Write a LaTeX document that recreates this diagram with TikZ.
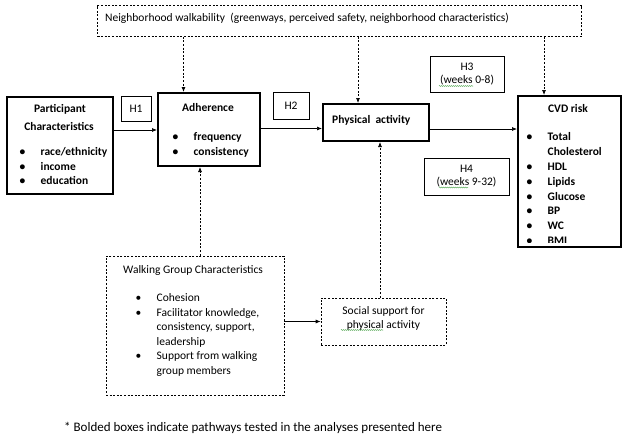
\documentclass[tikz,border=0pt]{standalone}
\usepackage{fontspec}
\setmainfont{Carlito}
\usetikzlibrary{arrows.meta, decorations.pathmorphing}
\definecolor{spellgreen}{RGB}{70,160,70}
\newcommand{\bul}{\makebox[21pt][l]{\textbullet}}
\newcommand{\nobul}{\makebox[21pt][l]{}}
\newcommand{\bulletlist}[1]{\begin{tabular}[t]{@{}l@{}}#1\end{tabular}}
\renewcommand{\arraystretch}{1.21}

\begin{document}
\begin{tikzpicture}[x=1pt, y=-1pt,
    every node/.style={font=\fontsize{11.5}{12}\selectfont, inner sep=0pt},
    boldbox/.style={draw, line width=2.4pt},
    hbox/.style={draw, line width=0.7pt},
    dbox/.style={draw, line width=0.7pt, dash pattern=on 2pt off 1.6pt},
    arr/.style={-{Latex[length=5pt,width=4pt]}, line width=0.7pt},
    darr/.style={arr, dash pattern=on 2pt off 1.6pt},
    spell/.style={spellgreen, line width=0.5pt, decorate,
        decoration={snake, amplitude=0.5pt, segment length=2pt}}]

    % Canvas
    \fill[white] (0,0) rectangle (629,442);
    \useasboundingbox (0,0) rectangle (629,442);

    % Neighborhood walkability
    \node[dbox, minimum width=484pt, minimum height=31pt] (nbhd) at (339.5,21) {};
    \node[anchor=west] (nbtext) at (105,18.5)
        {Neighborhood walkability\ \ (greenways, perceived safety, neighborhood characteristics)};

    % Participant characteristics
    \node[boldbox, minimum width=105.6pt, minimum height=96.6pt] (part) at (60,145.5) {};
    \node (parttitle) at (60,109) {\textbf{Participant}};
    \node (parttitleb) at (59,126) {\textbf{Characteristics}};
    \node[anchor=base west] (partlist) at (19.5,155.5)
        {\bfseries\bulletlist{\bul race/ethnicity\\ \bul income\\ \bul education}};

    % Adherence
    \node[boldbox, minimum width=101.6pt, minimum height=72.6pt] (adh) at (209,129.5) {};
    \node (adhtitle) at (208,108) {\textbf{Adherence}};
    \node[anchor=base west] (adhlist) at (172.5,140.5)
        {\bfseries\bulletlist{\bul frequency\\ \bul consistency}};

    % Physical activity
    \node[boldbox, minimum width=105.6pt, minimum height=36.6pt] (pa) at (376,122.5) {};
    \node[anchor=west] (patext) at (332,120) {\textbf{Physical\ \ activity}};

    % CVD risk
    \node[boldbox, minimum width=102.6pt, minimum height=150.6pt] (cvd) at (569.5,171.5) {};
    \node (cvdtitle) at (568,109) {\textbf{CVD risk}};
    \begin{scope}
        \clip (519,97) rectangle (620,242.5);
        \node[anchor=base west] (cvdlist) at (526.5,140.5)
            {\bfseries\renewcommand{\arraystretch}{1.24}%
             \bulletlist{\bul Total\\ \nobul Cholesterol\\ \bul HDL\\ \bul Lipids\\
              \bul Glucose\\ \bul BP\\ \bul WC\\ \bul BMI}};
    \end{scope}
    \draw[line width=2.4pt] (cvd.south west) ++(0,-1.2) -- ++(102.6,0);

    % Hypotheses
    \node[hbox, minimum width=30pt, minimum height=25pt] (h1) at (136,108.5) {H1};
    \node[hbox, minimum width=36pt, minimum height=27pt] (h2) at (291,105.5) {H2};
    \node[hbox, minimum width=74pt, minimum height=36pt, align=center,
        font=\fontsize{11.5}{13}\selectfont] (h3) at (467,74) {H3\\(weeks 0-8)};
    \node[hbox, minimum width=85pt, minimum height=37pt, align=center,
        font=\fontsize{11.5}{13}\selectfont] (h4) at (466.5,176.5) {H4\\(weeks 9-32)};

    % Walking group characteristics
    \node[dbox, minimum width=178pt, minimum height=139pt] (wgc) at (195,325.5) {};
    \node[anchor=west] (wgctitle) at (123,270) {Walking Group Characteristics};
    \node[anchor=base west] (wgclist) at (135.5,301.5)
        {\bulletlist{\bul Cohesion\\ \bul Facilitator knowledge,\\ \nobul consistency, support,\\
          \nobul leadership\\ \bul Support from walking\\ \nobul group members}};

    % Social support
    \node[dbox, minimum width=125pt, minimum height=47pt] (soc) at (383.5,321.5) {};
    \node[align=center, font=\fontsize{11.5}{14}\selectfont] (soctext) at (383.5,318)
        {Social support for\\physical activity};

    % Spelling marks
    \draw[spell] (439,86) -- (473,86);
    \draw[spell] (439,187.5) -- (468,187.5);
    \draw[spell] (341,330) -- (383,330);

    % Pathways
    \draw[arr] (part.east |- 0,130) -- (adh.west |- 0,130);
    \draw[arr] (adh.east |- 0,128.5) -- (pa.west |- 0,128.5);
    \draw[arr] (pa.east |- 0,129) -- (cvd.west |- 0,129);
    \draw[arr] (wgc.east |- soc.west) -- (soc.west);

    % Moderators
    \draw[darr] (183.5,0 |- nbhd.south) -- (183.5,0 |- adh.north);
    \draw[darr] (358,0 |- nbhd.south) -- (358,0 |- pa.north);
    \draw[darr] (544,0 |- nbhd.south) -- (544,0 |- cvd.north);
    \draw[darr] (200,0 |- wgc.north) -- (200,0 |- adh.south);
    \draw[darr] (380,0 |- soc.north) -- (380,0 |- pa.south);

    % Note
    \node[anchor=west, font=\fontsize{13}{15}\selectfont] (note) at (64,428)
        {* Bolded boxes indicate pathways tested in the analyses presented here};
\end{tikzpicture}
\end{document}
